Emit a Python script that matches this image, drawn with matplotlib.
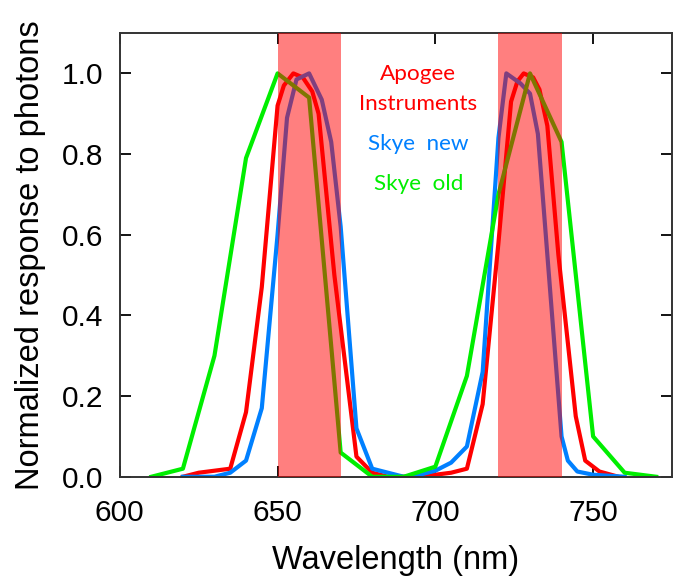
import matplotlib
matplotlib.use("Agg")
import matplotlib.pyplot as plt

# wavelength (nm) and normalized response
apogee_nm = [620, 625, 630, 635, 640, 645, 650, 652, 655, 658, 661, 663, 668, 675, 680, 685, 690,
             695, 700, 705, 710, 715, 720, 724, 726, 728, 731, 733, 735.5, 739, 744.5, 747.5, 752, 758]
apogee_resp = [0.0, 0.01, 0.015, 0.02, 0.16, 0.47, 0.92, 0.97, 1.0, 0.99, 0.955, 0.90, 0.50, 0.05, 0.01, 0.0, 0.0,
               0.0, 0.005, 0.01, 0.02, 0.18, 0.58, 0.93, 0.98, 1.0, 0.99, 0.96, 0.87, 0.55, 0.15, 0.04, 0.013, 0.0]

skye_new_nm = [620, 625, 630, 635, 640, 645, 650, 653, 656, 660, 664, 667, 670, 675, 680, 685, 690,
               695, 700, 705, 710, 715, 720, 722.5, 727, 730, 732.5, 735.5, 740, 742, 745, 750, 760]
skye_new_resp = [0.0, 0.0, 0.0, 0.01, 0.04, 0.17, 0.60, 0.89, 0.985, 1.0, 0.935, 0.83, 0.62, 0.12, 0.02, 0.01, 0.0,
                 0.005, 0.015, 0.035, 0.075, 0.26, 0.84, 1.0, 0.975, 0.95, 0.85, 0.55, 0.10, 0.04, 0.013, 0.005, 0.0]

skye_old_nm = [610, 620, 630, 640, 650, 660, 670, 680, 690, 700, 710, 720, 730, 740, 750, 760, 770]
skye_old_resp = [0.0, 0.02, 0.30, 0.79, 1.0, 0.94, 0.06, 0.0, 0.0, 0.025, 0.25, 0.70, 1.0, 0.83, 0.10, 0.01, 0.0]

# sensor bands shaded in the background
bands = [(650, 670), (720, 740)]

x_ticks = [600, 650, 700, 750]
y_ticks = [0.0, 0.2, 0.4, 0.6, 0.8, 1.0]

red = "#ff0000"
blue = "#0080ff"
green = "#00ee00"

fig, ax = plt.subplots(figsize=(6.73, 5.8), dpi=100)
fig.subplots_adjust(left=0.178, right=0.9985, top=0.943, bottom=0.178)

ax.plot(apogee_nm, apogee_resp, color=red, lw=3, zorder=2)
ax.plot(skye_new_nm, skye_new_resp, color=blue, lw=3, zorder=2)
ax.plot(skye_old_nm, skye_old_resp, color=green, lw=3, zorder=2)

# the shading sits on top of the lines, that is why blue turns purple there
for lo, hi in bands:
    ax.axvspan(lo, hi, color=red, alpha=0.5, lw=0, zorder=3)

ax.set_xlim(600, 775)
ax.set_ylim(0, 1.1)
ax.set_xticks(x_ticks)
ax.set_yticks(y_ticks)
ax.set_yticklabels(["%.1f" % v for v in y_ticks])

ax.tick_params(direction="in", length=8, width=1.3, top=True, right=True,
               labelsize=21.5, colors="black")
ax.tick_params(axis="x", pad=16)
ax.tick_params(axis="y", pad=12)
for lab in ax.get_xticklabels() + ax.get_yticklabels():
    lab.set_family("Liberation Sans")
for sp in ax.spines.values():
    sp.set_linewidth(1.4)
    sp.set_color("#333333")

ax.set_xlabel("Wavelength (nm)", fontsize=23.5, family="Liberation Sans", labelpad=13)
ax.set_ylabel("Normalized response to photons", fontsize=23.5, family="Liberation Sans", labelpad=11)

# coloured text in place of a legend box
legend_font = dict(family="Lato", fontsize=16.2, ha="center", va="center")
ax.text(694.6, 0.998, "Apogee", color=red, **legend_font)
ax.text(694.6, 0.923, "Instruments", color=red, **legend_font)
ax.text(694.6, 0.824, "Skye  new", color=blue, **legend_font)
ax.text(694.6, 0.725, "Skye  old", color=green, **legend_font)

fig.savefig("out.png", dpi=100)
